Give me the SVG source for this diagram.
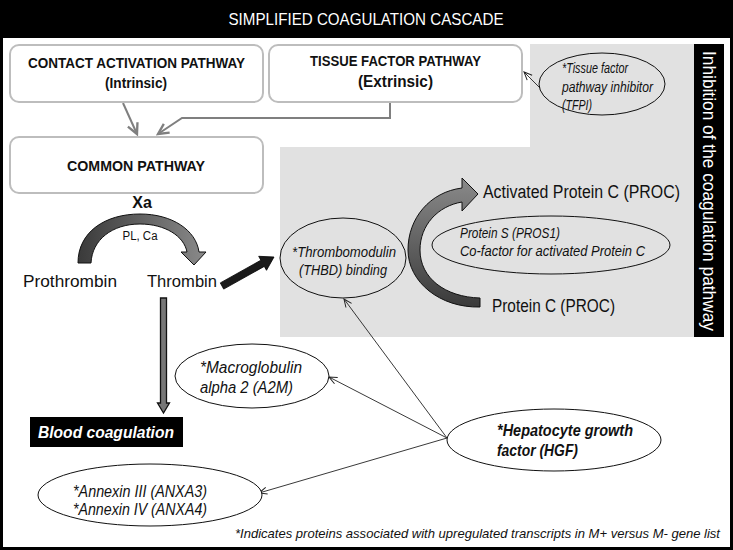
<svg xmlns="http://www.w3.org/2000/svg" width="733" height="550" viewBox="0 0 733 550">
<style>
text{font-family:"Liberation Sans",Arial,sans-serif;fill:#111}
.b{font-weight:bold}
.i{font-style:italic}
.w{fill:#fff}
.box{fill:#fff;stroke:#bdbdbd;stroke-width:2}
.ell{fill:none;stroke:#111;stroke-width:1}
.ellw{fill:#fff;stroke:#111;stroke-width:1}
.gc{fill:none;stroke:#7f7f7f;stroke-width:2}
.tc{fill:none;stroke:#222;stroke-width:0.9}
</style>
<defs>
<marker id="ag" markerUnits="userSpaceOnUse" markerWidth="14" markerHeight="14" refX="10" refY="5" orient="auto" viewBox="0 0 12 10">
<path d="M1,0.5 L10,5 L1,9.5" fill="none" stroke="#7f7f7f" stroke-width="2"/>
</marker>
<marker id="at" markerUnits="userSpaceOnUse" markerWidth="10" markerHeight="10" refX="9" refY="4" orient="auto" viewBox="0 0 10 8">
<path d="M1,0.5 L9,4 L1,7.5" fill="none" stroke="#222" stroke-width="1"/>
</marker>
<linearGradient id="g1" x1="0" y1="0" x2="1" y2="0">
<stop offset="0" stop-color="#3a3a3a"/>
<stop offset="1" stop-color="#8a8a8a"/>
</linearGradient>
<linearGradient id="g2" x1="0" y1="1" x2="0" y2="0">
<stop offset="0" stop-color="#3a3a3a"/>
<stop offset="1" stop-color="#8a8a8a"/>
</linearGradient>
</defs>

<rect x="1.5" y="1.5" width="730" height="547" fill="#fff" stroke="#000" stroke-width="3"/>
<rect x="0" y="0" width="733" height="38" fill="#000"/>
<text class="w" x="366" y="25" font-size="17" text-anchor="middle" textLength="275" lengthAdjust="spacingAndGlyphs">SIMPLIFIED COAGULATION CASCADE</text>

<g id="inhibition-region">
<path d="M530,44 H694 V337 H280 V147 H530 Z" fill="#e1e1e1"/>
<rect x="694" y="44" width="30" height="293" fill="#000"/>
<text class="w" transform="translate(703,191) rotate(90)" x="0" y="0" font-size="18" text-anchor="middle" textLength="280" lengthAdjust="spacingAndGlyphs">Inhibition of the coagulation pathway</text>
</g>

<g id="connectors">
<path class="gc" d="M123,103 L137,134" marker-end="url(#ag)"/>
<path class="gc" d="M390,103 V118 H182 L158,134" marker-end="url(#ag)"/>
<path class="tc" d="M540,88 L524,72" marker-end="url(#at)"/>
<path class="tc" d="M447,438 L344,299" marker-end="url(#at)"/>
<path class="tc" d="M447,438 L329,377" marker-end="url(#at)"/>
<path class="tc" d="M447,438 L259,493" marker-end="url(#at)"/>
<path id="xa-arrow" d="M78,263 C78,232 105,214 140,214 C172,214 196,230 199,252 L206,252 L194,265 L181,252 L187,252 C184,236 165,224 140,224 C112,224 92,240 91,263 Z" fill="url(#g1)" stroke="#111" stroke-width="1"/>
<path id="thrombin-arrow" d="M220.3,282.9 L260.9,260.2 L258.7,256.3 L274,257 L266.5,270.3 L264.3,266.4 L223.7,289.1 Z" fill="#1a1a1a" stroke="#000" stroke-width="0.8"/>
<path id="down-arrow" d="M160.5,298 L160.5,403 L157.5,403 L163.5,413 L169.5,403 L166.5,403 L166.5,298 Z" fill="#777" stroke="#111" stroke-width="1.3"/>
<path id="proc-arrow" d="M480,307 C440,308 408,282 408,250 C408,218 430,192 462,188 L462,178 L478,194 L462,211 L462,202 C438,206 420,225 420,250 C420,278 445,297 480,298 Z" fill="url(#g2)" stroke="#111" stroke-width="1"/>
</g>

<g id="contact">
<rect class="box" x="10" y="45" width="253" height="57" rx="9"/>
<text class="b" x="136.5" y="68" font-size="14" text-anchor="middle" textLength="217" lengthAdjust="spacingAndGlyphs">CONTACT ACTIVATION PATHWAY</text>
<text class="b" x="136" y="88" font-size="14" text-anchor="middle" textLength="62" lengthAdjust="spacingAndGlyphs">(Intrinsic)</text>
</g>

<g id="tissue">
<rect class="box" x="269" y="45" width="253" height="57" rx="9"/>
<text class="b" x="395.5" y="66" font-size="14" text-anchor="middle" textLength="171" lengthAdjust="spacingAndGlyphs">TISSUE FACTOR PATHWAY</text>
<text class="b" x="395.5" y="87" font-size="16" text-anchor="middle" textLength="75" lengthAdjust="spacingAndGlyphs">(Extrinsic)</text>
</g>

<g id="common">
<rect class="box" x="10" y="137" width="253" height="56" rx="9"/>
<text class="b" x="136" y="171" font-size="14" text-anchor="middle" textLength="138" lengthAdjust="spacingAndGlyphs">COMMON PATHWAY</text>
</g>

<g id="xa-labels">
<text class="b" x="142" y="208" font-size="16" text-anchor="middle">Xa</text>
<text x="140" y="240" font-size="12" text-anchor="middle" textLength="35" lengthAdjust="spacingAndGlyphs">PL, Ca</text>
</g>

<g id="prothrombin">
<text x="23" y="287" font-size="17" textLength="94" lengthAdjust="spacingAndGlyphs">Prothrombin</text>
</g>
<g id="thrombin">
<text x="147" y="287" font-size="17" textLength="70" lengthAdjust="spacingAndGlyphs">Thrombin</text>
</g>

<g id="blood-coagulation">
<rect x="30" y="417" width="153" height="30" fill="#000"/>
<text class="b i w" x="38" y="438" font-size="16" textLength="136" lengthAdjust="spacingAndGlyphs">Blood coagulation</text>
</g>

<g id="tfpi">
<ellipse class="ell" cx="602" cy="84" rx="63" ry="31"/>
<text class="i" x="562" y="73" font-size="14" textLength="66" lengthAdjust="spacingAndGlyphs">*Tissue factor</text>
<text class="i" x="562" y="92" font-size="14" textLength="91" lengthAdjust="spacingAndGlyphs">pathway inhibitor</text>
<text class="i" x="562" y="110" font-size="14" textLength="30" lengthAdjust="spacingAndGlyphs">(TFPI)</text>
</g>

<g id="thrombomodulin">
<ellipse class="ell" cx="343" cy="258" rx="63" ry="40"/>
<text class="i" x="344" y="257" font-size="15" text-anchor="middle" textLength="104" lengthAdjust="spacingAndGlyphs">*Thrombomodulin</text>
<text class="i" x="343" y="275" font-size="15" text-anchor="middle" textLength="88" lengthAdjust="spacingAndGlyphs">(THBD) binding</text>
</g>

<g id="protein-s">
<ellipse class="ell" cx="551" cy="245" rx="119" ry="29"/>
<text class="i" x="460" y="238" font-size="14" textLength="100" lengthAdjust="spacingAndGlyphs">Protein S (PROS1)</text>
<text class="i" x="460" y="256" font-size="14" textLength="185" lengthAdjust="spacingAndGlyphs">Co-factor for activated Protein C</text>
</g>

<g id="activated-protein-c">
<text x="483" y="198" font-size="18" textLength="197" lengthAdjust="spacingAndGlyphs">Activated Protein C (PROC)</text>
</g>
<g id="protein-c">
<text x="492" y="312" font-size="18" textLength="123" lengthAdjust="spacingAndGlyphs">Protein C (PROC)</text>
</g>

<g id="macroglobulin">
<ellipse class="ellw" cx="252" cy="376" rx="77" ry="32"/>
<text class="i" x="200" y="373" font-size="16" textLength="102" lengthAdjust="spacingAndGlyphs">*Macroglobulin</text>
<text class="i" x="200" y="393" font-size="16" textLength="93" lengthAdjust="spacingAndGlyphs">alpha 2 (A2M)</text>
</g>

<g id="annexin">
<ellipse class="ellw" cx="150" cy="495" rx="112" ry="31"/>
<text class="i" x="73" y="497" font-size="16" textLength="134" lengthAdjust="spacingAndGlyphs">*Annexin III (ANXA3)</text>
<text class="i" x="73" y="515" font-size="16" textLength="134" lengthAdjust="spacingAndGlyphs">*Annexin IV (ANXA4)</text>
</g>

<g id="hgf">
<ellipse class="ellw" cx="554" cy="440" rx="107" ry="31"/>
<text class="b i" x="497" y="436" font-size="17" textLength="136" lengthAdjust="spacingAndGlyphs">*Hepatocyte growth</text>
<text class="b i" x="497" y="456" font-size="17" textLength="81" lengthAdjust="spacingAndGlyphs">factor (HGF)</text>
</g>

<text class="i" x="720" y="538" font-size="13" text-anchor="end" textLength="485" lengthAdjust="spacingAndGlyphs">*Indicates proteins associated with upregulated transcripts in M+ versus M- gene list</text>
</svg>
